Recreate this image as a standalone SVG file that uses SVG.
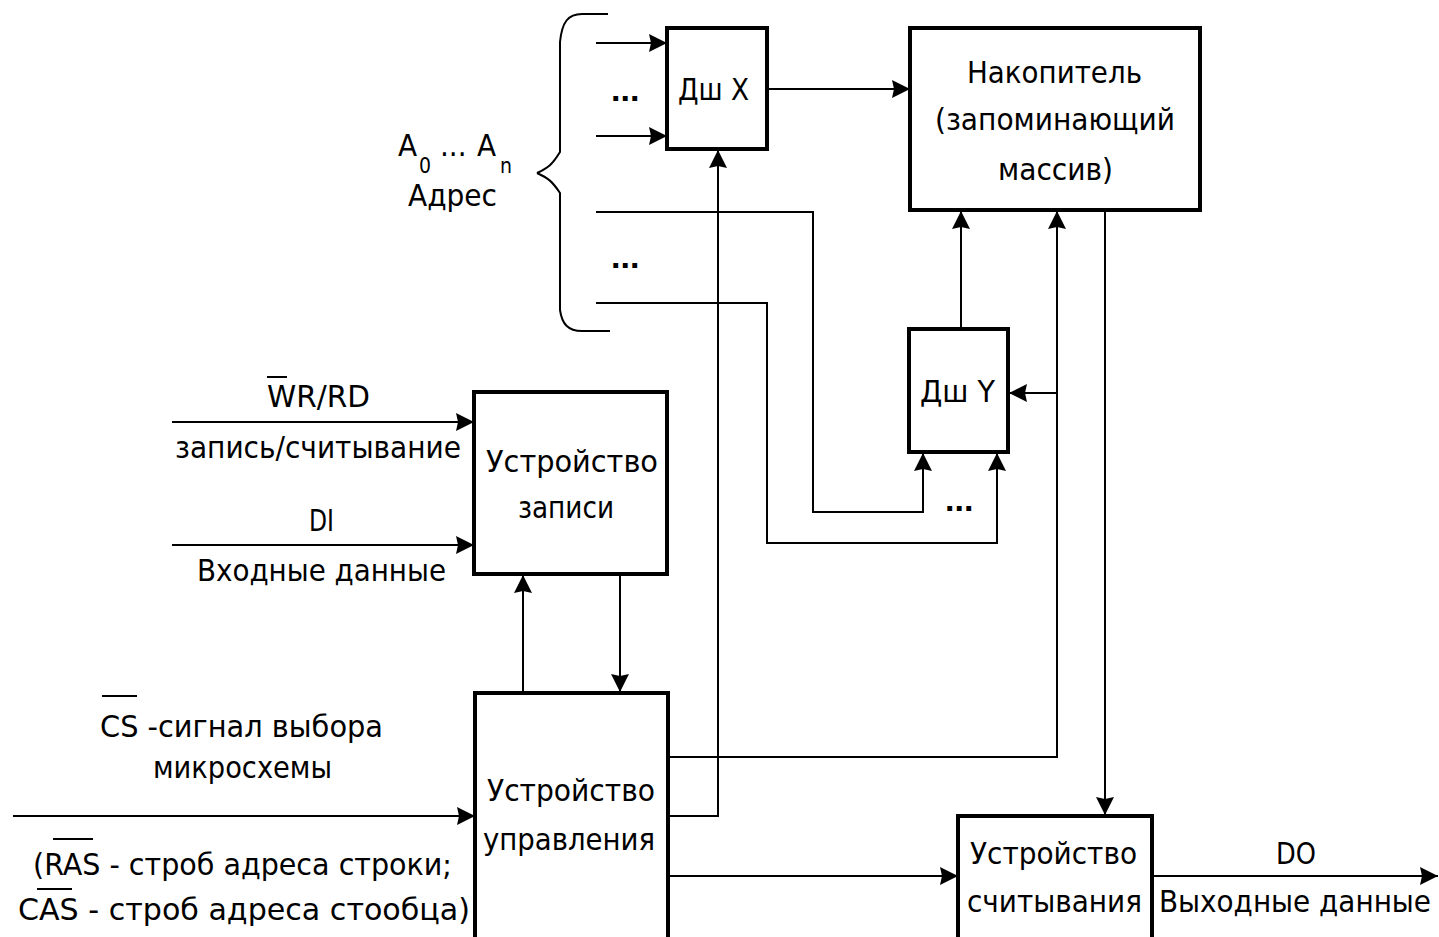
<svg xmlns="http://www.w3.org/2000/svg" width="1439" height="937" viewBox="0 0 1439 937">
<style>
.box{fill:#fff;stroke:#000;stroke-width:4}
.ln{fill:none;stroke:#000;stroke-width:2}
.arr{marker-end:url(#ah)}
text{font-family:"Liberation Sans Narrow","DejaVu Sans Condensed","Liberation Sans",sans-serif;font-size:31px;fill:#000}
.sub{font-size:21px}
.dots{font-family:"Liberation Sans",sans-serif;font-weight:bold;font-size:34px}
</style>
<defs>
<marker id="ah" markerUnits="userSpaceOnUse" markerWidth="19" markerHeight="18" refX="18" refY="9" orient="auto">
<path d="M0,0 L18,9 L0,18 L2,9 z" fill="#000"/>
</marker>
</defs>
<rect width="1439" height="937" fill="#fff"/>
<g id="connectors">
<path class="ln" d="M537,173 C548,168 552,165 560,152 L560,42 C562,22 568,14 582,14 L608,14"/>
<path class="ln" d="M537,173 C548,178 552,181 560,193 L560,310 C562,324 568,331 582,331 L610,331"/>
<path class="ln arr" d="M596,43 L667,43"/>
<path class="ln arr" d="M596,136 L667,136"/>
<path class="ln arr" d="M767,89 L910,89"/>
<path class="ln arr" d="M596,212 L813,212 L813,512 L923,512 L923,453"/>
<path class="ln arr" d="M596,303 L767,303 L767,543 L997,543 L997,453"/>
<path class="ln arr" d="M961,329 L961,211"/>
<path class="ln arr" d="M668,757 L1057,757 L1057,211"/>
<path class="ln arr" d="M1057,393 L1009,393"/>
<path class="ln arr" d="M668,816 L718,816 L718,150"/>
<path class="ln arr" d="M668,876 L958,876"/>
<path class="ln arr" d="M1105,210 L1105,815"/>
<path class="ln arr" d="M1152,876 L1438,876"/>
<path class="ln arr" d="M172,422 L474,422"/>
<path class="ln arr" d="M172,545 L474,545"/>
<path class="ln arr" d="M13,816 L475,816"/>
<path class="ln arr" d="M523,693 L523,575"/>
<path class="ln arr" d="M620,574 L620,692"/>
</g>
<g id="address">
<text><tspan x="398" y="156">A</tspan><tspan class="sub" x="419" y="173">0</tspan><tspan x="440" y="156">...</tspan><tspan x="477" y="156">A</tspan><tspan class="sub" x="500" y="173">n</tspan></text>
<text x="408" y="206" textLength="89" lengthAdjust="spacingAndGlyphs">Адрес</text>
<text class="dots" x="611" y="101">...</text>
<text class="dots" x="611" y="268">...</text>
</g>
<g id="dshx">
<rect class="box" x="667" y="28" width="100" height="121"/>
<text x="678" y="100" textLength="71" lengthAdjust="spacingAndGlyphs">Дш X</text>
</g>
<g id="nakopitel">
<rect class="box" x="910" y="28" width="290" height="182"/>
<text x="967" y="83" textLength="175" lengthAdjust="spacingAndGlyphs">Накопитель</text>
<text x="935" y="130" textLength="240" lengthAdjust="spacingAndGlyphs">(запоминающий</text>
<text x="998" y="180" textLength="115" lengthAdjust="spacingAndGlyphs">массив)</text>
</g>
<g id="dshy">
<rect class="box" x="909" y="329" width="99" height="123"/>
<text x="920" y="402" textLength="75" lengthAdjust="spacingAndGlyphs">Дш Y</text>
<text class="dots" x="945" y="511">...</text>
</g>
<g id="zapisi">
<rect class="box" x="474" y="392" width="193" height="182"/>
<text x="486" y="472" textLength="172" lengthAdjust="spacingAndGlyphs">Устройство</text>
<text x="518" y="518" textLength="96" lengthAdjust="spacingAndGlyphs">записи</text>
<text x="267" y="407" textLength="103" lengthAdjust="spacingAndGlyphs">WR/RD</text>
<line class="ln" x1="267" y1="377" x2="287" y2="377"/>
<text x="175" y="458" textLength="286" lengthAdjust="spacingAndGlyphs">запись/считывание</text>
<text x="309" y="531" textLength="25" lengthAdjust="spacingAndGlyphs">DI</text>
<text x="197" y="581" textLength="249" lengthAdjust="spacingAndGlyphs">Входные данные</text>
</g>
<g id="upravleniya">
<rect class="box" x="475" y="693" width="193" height="250"/>
<text x="487" y="801" textLength="168" lengthAdjust="spacingAndGlyphs">Устройство</text>
<text x="483" y="850" textLength="172" lengthAdjust="spacingAndGlyphs">управления</text>
<text x="100" y="737" textLength="283" lengthAdjust="spacingAndGlyphs">CS -сигнал выбора</text>
<line class="ln" x1="102" y1="696" x2="137" y2="696"/>
<text x="153" y="778" textLength="179" lengthAdjust="spacingAndGlyphs">микросхемы</text>
<text x="33" y="875" textLength="419" lengthAdjust="spacingAndGlyphs">(RAS - строб адреса строки;</text>
<line class="ln" x1="53" y1="839" x2="93" y2="839"/>
<text x="18" y="920" textLength="452" lengthAdjust="spacingAndGlyphs">CAS - строб адреса стообца)</text>
<line class="ln" x1="37" y1="889" x2="72" y2="889"/>
</g>
<g id="schityvaniya">
<rect class="box" x="958" y="816" width="194" height="127"/>
<text x="970" y="864" textLength="167" lengthAdjust="spacingAndGlyphs">Устройство</text>
<text x="967" y="912" textLength="175" lengthAdjust="spacingAndGlyphs">считывания</text>
<text x="1276" y="864" textLength="40" lengthAdjust="spacingAndGlyphs">DO</text>
<text x="1159" y="912" textLength="272" lengthAdjust="spacingAndGlyphs">Выходные данные</text>
</g>
</svg>
